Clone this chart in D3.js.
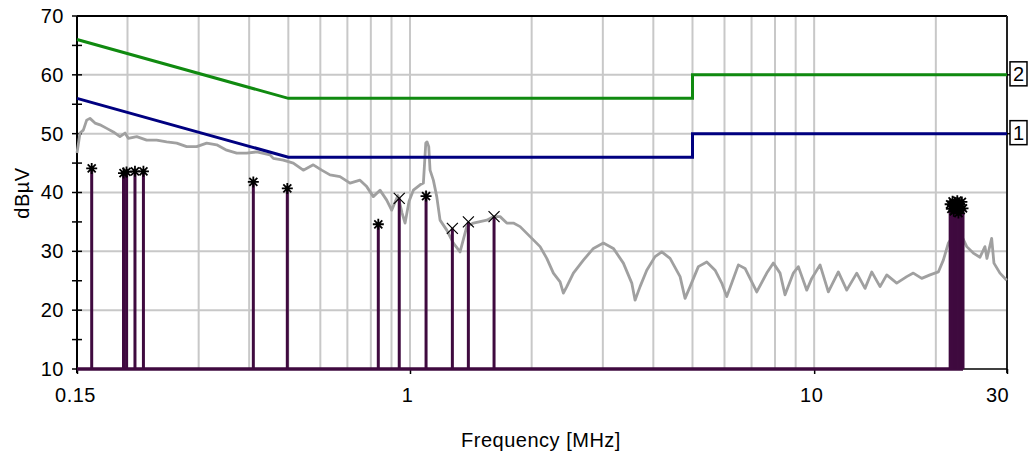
<!DOCTYPE html>
<html>
<head>
<meta charset="utf-8">
<script src="https://cdn.jsdelivr.net/npm/d3@7"></script>
<style>
  body { margin: 0; background: #fff; }
  svg { display: block; }
  text { font-family: "Liberation Sans", Arial, sans-serif; fill: #000; letter-spacing: 0.5px; }
</style>
</head>
<body>
<div id="chart"></div>
<script>
// Axis values
const xTickLabels = [0.15, 1, 10, 30];
const yTickLabels = [10, 20, 30, 40, 50, 60, 70];
const gridFreqs = [0.2, 0.3, 0.4, 0.5, 0.6, 0.7, 0.8, 0.9, 1, 2, 3, 4, 5, 6, 7, 8, 9, 10, 20];

// Limit lines (MHz, dBµV)
const qpLimit = [[0.15, 66], [0.5, 56], [5, 56], [5, 60], [30, 60]];
const avLimit = [[0.15, 56], [0.5, 46], [5, 46], [5, 50], [30, 50]];

// Measured spectrum trace (MHz, dBµV)
const trace = [
  [0.150, 46.7], [0.1526, 50.1], [0.1555, 50.6], [0.1585, 52.3], [0.1615, 52.6],
  [0.1662, 51.8], [0.171, 51.5], [0.1777, 50.9], [0.1845, 50.3], [0.1916, 49.5],
  [0.1972, 50.1], [0.2009, 49.2], [0.2108, 49.5], [0.2231, 48.9], [0.2362, 48.9],
  [0.250, 48.6], [0.2647, 48.4], [0.2802, 47.8], [0.2966, 47.8], [0.314, 48.4],
  [0.3324, 48.1], [0.3519, 47.2], [0.3726, 46.7], [0.3945, 46.7], [0.4176, 46.9],
  [0.4504, 46.4], [0.459, 45.8], [0.4859, 45.5], [0.5144, 45.0], [0.5445, 43.8],
  [0.5764, 44.7], [0.6047, 43.8], [0.634, 43.0], [0.6711, 42.7], [0.7105, 41.6],
  [0.7521, 42.1], [0.7814, 41.0], [0.8113, 39.3], [0.8429, 40.4], [0.8757, 38.7],
  [0.9008, 37.0], [0.9336, 39.5], [0.9559, 36.5], [0.9723, 34.8], [0.9947, 38.5],
  [1.0194, 40.4], [1.0592, 41.3], [1.0792, 41.6], [1.0941, 48.4], [1.1022, 48.6],
  [1.1128, 47.8], [1.1211, 43.8], [1.1423, 42.1], [1.1647, 39.3], [1.1868, 35.3],
  [1.233, 33.6], [1.2803, 31.4], [1.3301, 29.9], [1.3819, 34.2], [1.4348, 34.8],
  [1.5488, 35.3], [1.6081, 35.9], [1.6707, 35.9], [1.7357, 34.8], [1.8023, 34.8],
  [1.8725, 34.2], [1.9822, 32.5], [2.0984, 30.8], [2.1799, 28.8], [2.2635, 26.3],
  [2.3516, 24.8], [2.396, 22.9], [2.4429, 24.0], [2.5366, 26.3], [2.6854, 28.5],
  [2.8427, 30.5], [3.0093, 31.4], [3.1858, 30.5], [3.3724, 28.0], [3.5378, 24.6],
  [3.6049, 21.7], [3.7088, 24.0], [3.8532, 26.8], [4.0398, 29.1], [4.1971, 29.9],
  [4.4004, 28.8], [4.6585, 25.7], [4.7927, 22.0], [4.931, 24.0], [5.17, 27.4],
  [5.4236, 28.2], [5.6863, 26.8], [5.9071, 24.6], [6.0778, 22.3], [6.2535, 24.6],
  [6.493, 27.7], [6.7458, 27.1], [7.2103, 23.1], [7.6333, 26.3], [7.9258, 28.0],
  [8.2336, 26.3], [8.4716, 22.6], [8.8819, 26.3], [9.1387, 27.4], [9.587, 23.4],
  [9.8632, 25.4], [10.341, 27.7], [10.841, 23.1], [11.477, 26.5], [12.04, 23.4],
  [12.745, 26.3], [13.362, 23.7], [13.882, 26.5], [14.554, 24.0], [15.119, 26.0],
  [16.006, 24.6], [16.945, 25.7], [17.594, 26.3], [18.456, 25.4], [19.35, 26.0],
  [20.288, 26.5], [20.873, 28.5], [21.477, 31.4], [22.31, 33.0], [23.22, 32.5],
  [23.85, 30.8], [24.76, 29.7], [25.72, 29.0], [26.46, 30.8], [26.76, 28.8],
  [27.49, 32.2], [27.85, 28.0], [28.82, 26.3], [29.95, 25.1]
];

// Final measurement peaks (MHz, dBµV)
const starPeaks = [
  [0.1631, 44.1], [0.1955, 43.3], [0.1989, 43.5], [0.2087, 43.6], [0.219, 43.6],
  [0.4096, 41.8], [0.4971, 40.7], [0.8348, 34.6], [1.0958, 39.4]
];
const crossPeaks = [[0.9406, 39.0], [1.273, 33.9], [1.3945, 35.0], [1.6142, 35.9]];
const clusterPeaks = [
  [21.7, 38.0], [21.85, 37.2], [22.0, 38.5], [22.15, 36.8], [22.3, 38.2], [22.45, 37.5],
  [22.6, 38.6], [22.75, 36.5], [22.9, 38.1], [23.05, 37.0], [23.2, 38.4], [23.35, 37.3]
];

const width = 1029, height = 453;
const plotLeft = 77, plotRight = 1007, plotTop = 16, plotBottom = 369;
const purple = "#3f0a3f";
const fontSize = "20px";

const x = d3.scaleLog().domain([0.15, 30]).range([plotLeft, plotRight]);
const y = d3.scaleLinear().domain([10, 70]).range([plotBottom, plotTop]);

const svg = d3.select("#chart").append("svg")
    .attr("width", width)
    .attr("height", height)
    .style("background", "#fff");

// Grid
svg.append("g")
    .selectAll("line")
    .data(gridFreqs)
    .join("line")
    .attr("x1", d => x(d)).attr("x2", d => x(d))
    .attr("y1", plotTop).attr("y2", plotBottom)
    .attr("stroke", "#c8c8c8").attr("stroke-width", 2);
svg.append("g")
    .selectAll("line")
    .data(yTickLabels.slice(1, -1))
    .join("line")
    .attr("x1", plotLeft).attr("x2", plotRight)
    .attr("y1", d => y(d)).attr("y2", d => y(d))
    .attr("stroke", "#c8c8c8").attr("stroke-width", 2);

// Frame
svg.append("line").attr("x1", plotLeft).attr("x2", plotRight).attr("y1", plotTop).attr("y2", plotTop)
    .attr("stroke", "#000").attr("stroke-width", 2);
svg.append("line").attr("x1", plotRight).attr("x2", plotRight).attr("y1", plotTop).attr("y2", plotBottom + 4)
    .attr("stroke", "#222").attr("stroke-width", 2);
svg.append("line").attr("x1", plotLeft).attr("x2", plotRight).attr("y1", plotBottom).attr("y2", plotBottom)
    .attr("stroke", "#000").attr("stroke-width", 1.5);

// Y axis with ticks every 5 dB crossing the axis
const yAxis = d3.axisLeft(y)
    .tickValues(d3.range(10, 71, 5))
    .tickSize(0)
    .tickPadding(13)
    .tickFormat(d => d % 10 === 0 ? d : "");
const yg = svg.append("g").attr("transform", `translate(${plotLeft},0)`).call(yAxis);
yg.select(".domain").remove();
yg.selectAll("text").style("font-size", fontSize).style("font-family", "'Liberation Sans', Arial, sans-serif");
svg.append("g")
    .selectAll("line")
    .data(d3.range(10, 71, 5))
    .join("line")
    .attr("x1", plotLeft - 5).attr("x2", plotLeft + 5)
    .attr("y1", d => y(d)).attr("y2", d => y(d))
    .attr("stroke", "#000").attr("stroke-width", 1.5);
svg.append("line").attr("x1", plotLeft).attr("x2", plotLeft).attr("y1", plotTop).attr("y2", plotBottom + 4)
    .attr("stroke", "#000").attr("stroke-width", 2);

// X axis labels and ticks
const xAxis = d3.axisBottom(x)
    .tickValues(xTickLabels)
    .tickSize(5)
    .tickPadding(14)
    .tickFormat(d => d);
const xg = svg.append("g").attr("transform", `translate(0,${plotBottom})`).call(xAxis);
xg.select(".domain").remove();
xg.selectAll("line").attr("stroke-width", 1.5);
xg.selectAll("text").style("font-size", fontSize).style("font-family", "'Liberation Sans', Arial, sans-serif");
xg.selectAll("text").filter(d => d === 30).attr("dx", -10);
xg.selectAll("text").filter(d => d === 0.15).attr("dx", -2);
xg.selectAll("text").filter(d => d === 1).attr("dx", -3);
xg.selectAll("text").filter(d => d === 10).attr("dx", -3);

// Axis titles
svg.append("text")
    .attr("x", 541).attr("y", 447)
    .attr("text-anchor", "middle")
    .style("font-size", fontSize)
    .text("Frequency [MHz]");
svg.append("text")
    .attr("transform", "translate(29,193) rotate(-90)")
    .attr("text-anchor", "middle")
    .style("font-size", fontSize)
    .text("dBµV");

// Spectrum trace
svg.append("path")
    .datum(trace)
    .attr("fill", "none")
    .attr("stroke", "#a0a0a0")
    .attr("stroke-width", 2.8)
    .attr("stroke-linejoin", "round")
    .attr("d", d3.line().x(d => x(d[0])).y(d => y(d[1])));

// Limit lines
const limitLine = d3.line().x(d => x(d[0])).y(d => y(d[1]));
svg.append("path").datum(qpLimit)
    .attr("fill", "none").attr("stroke", "#108a10").attr("stroke-width", 3)
    .attr("d", limitLine);
svg.append("path").datum(avLimit)
    .attr("fill", "none").attr("stroke", "#000080").attr("stroke-width", 3)
    .attr("d", limitLine);

// Limit labels
const limitTags = [{ name: "2", data: qpLimit }, { name: "1", data: avLimit }];
const tag = svg.append("g").selectAll("g")
    .data(limitTags)
    .join("g")
    .attr("transform", d => `translate(${plotRight},${y(d.data[d.data.length - 1][1])})`);
tag.append("line").attr("x1", 0).attr("x2", 3).attr("stroke", "#000").attr("stroke-width", 1.5);
tag.append("rect")
    .attr("x", 3).attr("y", -13).attr("width", 17).attr("height", 24)
    .attr("fill", "#fff").attr("stroke", "#000").attr("stroke-width", 1.5);
tag.append("text")
    .attr("x", 11.5).attr("y", 6)
    .attr("text-anchor", "middle")
    .style("font-size", fontSize)
    .style("letter-spacing", "0px")
    .text(d => d.name);

// Stems
const allPeaks = starPeaks.concat(crossPeaks, clusterPeaks);
svg.append("line")
    .attr("x1", x(0.15)).attr("x2", x(d3.max(allPeaks, d => d[0])))
    .attr("y1", y(10)).attr("y2", y(10))
    .attr("stroke", purple).attr("stroke-width", 3.5);
svg.append("g")
    .selectAll("line")
    .data(allPeaks)
    .join("line")
    .attr("x1", d => x(d[0])).attr("x2", d => x(d[0]))
    .attr("y1", y(10)).attr("y2", d => y(d[1]))
    .attr("stroke", purple).attr("stroke-width", 3);

// Markers
const star = "M-5.5,0H5.5M0,-5.5V5.5M-4,-4L4,4M-4,4L4,-4";
const cross = "M-5.5,-5.5L5.5,5.5M-5.5,5.5L5.5,-5.5";
svg.append("g")
    .selectAll("path")
    .data(starPeaks.concat(clusterPeaks))
    .join("path")
    .attr("transform", d => `translate(${x(d[0])},${y(d[1])})`)
    .attr("d", star)
    .attr("stroke", "#000").attr("stroke-width", 1.8).attr("fill", "none");
svg.append("g")
    .selectAll("path")
    .data(crossPeaks)
    .join("path")
    .attr("transform", d => `translate(${x(d[0])},${y(d[1])})`)
    .attr("d", cross)
    .attr("stroke", "#000").attr("stroke-width", 1.2).attr("fill", "none");
</script>
</body>
</html>
